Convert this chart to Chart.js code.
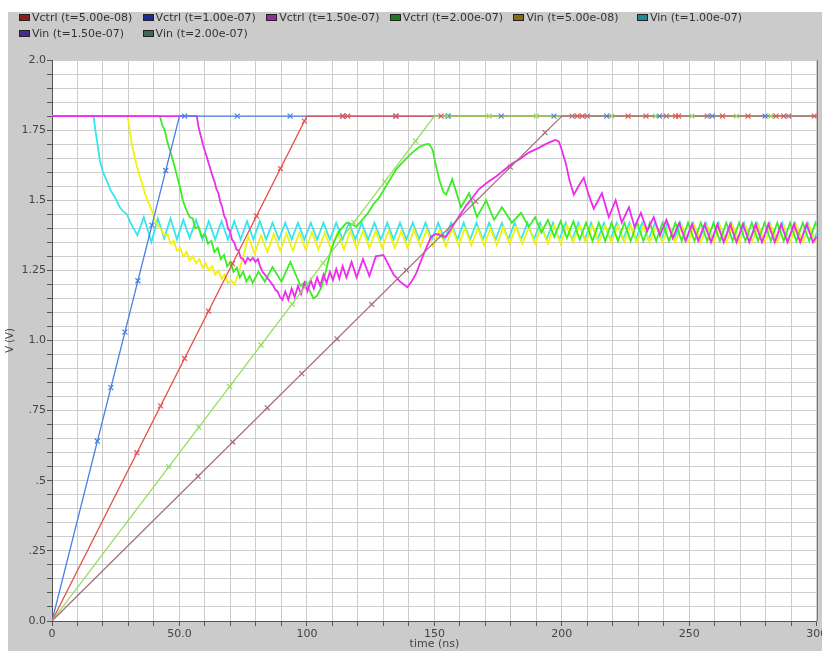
<!DOCTYPE html>
<html><head><meta charset="utf-8">
<script src="https://cdn.jsdelivr.net/npm/chart.js@4/dist/chart.umd.min.js"></script>
<style>
html,body{margin:0;padding:0;background:#fff;overflow:hidden;}
#wrap{position:relative;width:822px;height:651px;}
#c{position:absolute;left:0;top:0;}
.lg{position:absolute;font:11px "DejaVu Sans",sans-serif;color:#333;white-space:nowrap;line-height:13px;}
.lg i{display:inline-block;width:9px;height:5px;border:1px solid #222;margin-right:2px;vertical-align:0px;}
</style></head>
<body><div id="wrap"><canvas id="c" width="822" height="651"></canvas><div id="legend"></div></div>
<script>
// ---------- data ----------
const legendLabels = ['Vctrl (t=5.00e-08)','Vctrl (t=1.00e-07)','Vctrl (t=1.50e-07)','Vctrl (t=2.00e-07)','Vin (t=5.00e-08)','Vin (t=1.00e-07)','Vin (t=1.50e-07)','Vin (t=2.00e-07)'];
const legendColors = ['#8e1c1c','#1c2a9a','#9a2a9a','#1f7a1f','#8a6a10','#1e8a94','#4a2a8a','#3a6a5a'];
const xTickLabels = {0:'0',50:'50.0',100:'100',150:'150',200:'200',250:'250',300:'300'};
const yTickLabels = {0:'0.0',25:'.25',50:'.5',75:'.75',100:'1.0',125:'1.25',150:'1.5',175:'1.75',200:'2.0'};

// Vctrl ramps (time ns, V)
const vctrlA = [[0,0],[50,1.8],[300,1.8]];
const vctrlB = [[0,0],[100,1.8],[300,1.8]];
const vctrlC = [[0,0],[150,1.8],[300,1.8]];
const vctrlD = [[0,0],[200,1.8],[300,1.8]];

// markers on the Vctrl traces
const mkA = [[17.8,0.641],[23.1,0.832],[28.6,1.03],[33.7,1.213],[39.2,1.411],[44.6,1.606],[52,1.8],[72.7,1.8],[93.4,1.8],[114.1,1.8],[134.8,1.8],[155.5,1.8],[176.2,1.8],[196.9,1.8],[217.6,1.8],[238.3,1.8],[259,1.8],[279.7,1.8]];
const mkB = [[33.3,0.6],[42.6,0.767],[52,0.936],[61.4,1.105],[70.8,1.274],[80.2,1.444],[89.6,1.613],[99,1.782],[114,1.8],[116,1.8],[135,1.8],[152.6,1.8],[206,1.8],[208,1.8],[226,1.8],[233,1.8],[244.6,1.8],[245.8,1.8],[263,1.8],[273,1.8],[284,1.8],[287,1.8],[299,1.8]];
const mkC = [[45.8,0.55],[57.6,0.691],[69.7,0.836],[82,0.984],[94.2,1.13],[106.3,1.276],[118.4,1.421],[130.5,1.566],[142.6,1.711],[155,1.8],[171.5,1.8],[190,1.8],[219.6,1.8],[236.7,1.8],[251,1.8],[268.5,1.8],[282,1.8]];
const mkD = [[57.3,0.516],[70.9,0.638],[84.4,0.76],[98,0.882],[111.8,1.006],[125.4,1.129],[139,1.251],[152.6,1.373],[166.2,1.496],[179.8,1.618],[193.4,1.741],[204,1.8],[210,1.8],[241,1.8],[257,1.8],[289,1.8]];

// Vin traces (time ns, V)
const vinA = [[0,1.8],[16.3,1.8],[17,1.75],[17.6,1.715],[18.8,1.64],[20,1.6],[21.5,1.57],[23,1.535],[24.7,1.51],[26.6,1.475],[28,1.46],[29.4,1.45],[30.5,1.425],[31.7,1.405],[33.5,1.375],
[36,1.44],[39,1.35],[41.5,1.435],[44,1.365],[46.5,1.435],[49,1.36],[51.5,1.43],[54,1.365],[56.5,1.43],[59,1.36],[61.5,1.425],[64,1.36],[66.5,1.425],[69,1.36],[71.5,1.425],[74,1.36],[76.5,1.425],[79,1.36],[81.5,1.425],[84,1.36],[86.5,1.42],[89,1.36],[91.5,1.42],[94,1.36],[96.5,1.42],[99,1.36],[101.5,1.42],[104,1.36],[106.5,1.42],[109,1.36],[111.5,1.42],[114,1.36],[116.5,1.42],[119,1.36],[121.5,1.42],[124,1.36],[126.5,1.42],[129,1.36],[131.5,1.42],[134,1.36],[136.5,1.42],[139,1.36],[141.5,1.42],[144,1.36],[146.5,1.42],[149,1.36],[151.5,1.42],[154,1.36],[156.5,1.42],[159,1.36],[161.5,1.42],[164,1.36],[166.5,1.42],[169,1.36],[171.5,1.42],[174,1.36],[176.5,1.42],[179,1.36],[181.5,1.42],[184,1.36],[186.5,1.42],[189,1.36],[191.5,1.42],[194,1.36],[196.5,1.42],[199,1.36],[201.5,1.42],[204,1.36],[206.5,1.42],[209,1.36],[211.5,1.42],[214,1.36],[216.5,1.42],[219,1.36],[221.5,1.42],[224,1.36],[226.5,1.42],[229,1.36],[231.5,1.42],[234,1.36],[236.5,1.42],[239,1.36],[241.5,1.42],[244,1.36],[246.5,1.42],[249,1.36],[251.5,1.42],[254,1.36],[256.5,1.42],[259,1.36],[261.5,1.42],[264,1.36],[266.5,1.42],[269,1.36],[271.5,1.42],[274,1.36],[276.5,1.42],[279,1.36],[281.5,1.42],[284,1.36],[286.5,1.42],[289,1.36],[291.5,1.42],[294,1.36],[296.5,1.42],[299,1.36],[300,1.385]];

const vinB = [[0,1.8],[29.7,1.8],[30.5,1.75],[31.3,1.7],[32.3,1.66],[33.3,1.62],[34.5,1.585],[35.6,1.55],[37,1.51],[38.4,1.48],[39.5,1.455],[40.3,1.43],[41.5,1.41],[42.8,1.395],[44,1.375],[45.3,1.38],[46.5,1.345],[47.8,1.355],[49,1.32],[50.3,1.33],[51.5,1.3],[52.8,1.315],[54,1.285],[55.3,1.3],[56.5,1.275],[57.8,1.29],[59,1.26],[60.3,1.275],[61.5,1.25],[62.8,1.265],[64,1.235],[65.3,1.25],[66.5,1.22],[67.8,1.235],[69,1.205],[70.3,1.215],[71.5,1.2],[73,1.235],[75,1.3],
[77,1.37],[79.5,1.31],[82,1.375],[84.5,1.315],[87,1.38],[89.5,1.32],[92,1.38],[94.5,1.32],[97,1.385],[99.5,1.325],[102,1.385],[104.5,1.325],[107,1.385],[109.5,1.325],[112,1.385],[114.5,1.325],[117,1.39],[119.5,1.33],[122,1.39],[124.5,1.33],[127,1.39],[129.5,1.33],[132,1.39],[134.5,1.33],[137,1.39],[139.5,1.33],[142,1.395],[144.5,1.335],[147,1.395],[149.5,1.335],[152,1.395],[154.5,1.335],[157,1.4],[159.5,1.34],[162,1.4],[164.5,1.34],[167,1.4],[169.5,1.34],[172,1.4],[174.5,1.34],[177,1.405],[179.5,1.345],[182,1.405],[184.5,1.345],[187,1.405],[189.5,1.345],[192,1.405],[194.5,1.345],[197,1.41],[199.5,1.345],[202,1.41],[204.5,1.35],[207,1.41],[209.5,1.35],[212,1.41],[214.5,1.35],[217,1.41],[219.5,1.35],[222,1.41],[224.5,1.35],[227,1.41],[229.5,1.35],[232,1.41],[234.5,1.35],[237,1.41],[239.5,1.35],[242,1.41],[244.5,1.35],[247,1.41],[249.5,1.35],[252,1.41],[254.5,1.35],[257,1.41],[259.5,1.35],[262,1.41],[264.5,1.35],[267,1.41],[269.5,1.35],[272,1.41],[274.5,1.35],[277,1.41],[279.5,1.35],[282,1.41],[284.5,1.35],[287,1.41],[289.5,1.35],[292,1.41],[294.5,1.35],[297,1.41],[299.5,1.35],[300,1.355]];

const vinC = [[0,1.8],[42.3,1.8],[43.2,1.77],[44.2,1.75],[45.2,1.71],[46.2,1.68],[47.2,1.65],[48.1,1.62],[49.1,1.585],[50.1,1.55],[51.3,1.5],[52.5,1.47],[54,1.44],[55.2,1.435],[56.2,1.4],[57.5,1.405],[58.7,1.37],[60,1.38],[61.2,1.345],[62.5,1.355],[63.7,1.315],[65,1.33],[66.2,1.29],[67.5,1.305],[68.7,1.265],[70,1.28],[71.2,1.245],[72.5,1.26],[73.7,1.225],[75,1.245],[76.2,1.21],[77.5,1.23],[78.7,1.205],[81,1.245],[83.5,1.21],[86.5,1.262],[90,1.21],[93.5,1.28],[97.5,1.195],[99.5,1.21],[102.5,1.15],[104,1.16],[105.7,1.19],[107.5,1.25],[108.8,1.3],[110.5,1.35],[112.7,1.39],[115.5,1.42],[117.5,1.415],[119.4,1.405],[121.7,1.43],[124,1.455],[126,1.485],[128.4,1.51],[131,1.55],[133,1.58],[135,1.61],[137.5,1.635],[141.3,1.67],[144,1.69],[146.8,1.7],[148,1.7],[149.3,1.68],[150.7,1.62],[152,1.57],[153.5,1.53],[154.6,1.52],[157,1.575],[160.4,1.475],[163.6,1.525],[166.7,1.44],[170.3,1.5],[173.4,1.43],[176.5,1.475],[180.4,1.42],[184,1.455],[187,1.405],[189.5,1.44],[192,1.385],[194.5,1.43],[197,1.37],[199.5,1.425],[202,1.365],[204.5,1.425],[207,1.36],[209.5,1.42],[212,1.355],[214.5,1.42],[217,1.355],[219.5,1.42],[222,1.355],[224.5,1.42],[227,1.355],[229.5,1.42],[232,1.355],[234.5,1.42],[237,1.355],[239.5,1.42],[242,1.355],[244.5,1.42],[247,1.355],[249.5,1.42],[252,1.355],[254.5,1.42],[257,1.355],[259.5,1.42],[262,1.355],[264.5,1.42],[267,1.355],[269.5,1.42],[272,1.355],[274.5,1.42],[277,1.355],[279.5,1.42],[282,1.355],[284.5,1.42],[287,1.355],[289.5,1.42],[292,1.355],[294.5,1.42],[297,1.355],[299.5,1.42],[300,1.41]];

const vinD = [[0,1.8],[56.8,1.8],[57.5,1.76],[58.2,1.735],[59.2,1.7],[60,1.675],[60.7,1.655],[61.5,1.63],[62.2,1.61],[63,1.585],[63.8,1.565],[64.5,1.54],[65.3,1.525],[66,1.495],[66.8,1.475],[67.5,1.445],[68.3,1.43],[69,1.4],[69.8,1.39],[70.6,1.36],[71.5,1.35],[72.3,1.325],[73.2,1.32],[74,1.295],[75,1.29],[75.8,1.275],[76.8,1.295],[77.8,1.285],[78.8,1.295],[79.8,1.28],[80.8,1.29],[81.6,1.265],[82.6,1.245],[83.5,1.235],[84.3,1.225],[85.2,1.215],[86,1.205],[86.8,1.195],[87.7,1.18],[88.5,1.175],[89.4,1.155],[90.4,1.145],[91.5,1.175],[92.7,1.145],[94,1.185],[95.2,1.155],[96.5,1.195],[97.7,1.165],[99,1.205],[100.2,1.175],[101.5,1.215],[102.7,1.185],[104,1.225],[105.2,1.195],[106.5,1.235],[107.7,1.205],[109,1.245],[110.2,1.215],[111.5,1.255],[112.7,1.22],[114,1.265],[115.5,1.225],[117.5,1.28],[119.5,1.225],[122,1.29],[124.5,1.23],[127,1.3],[130,1.305],[132,1.27],[134,1.235],[136.5,1.21],[139.4,1.19],[141,1.21],[142.9,1.24],[145,1.29],[146.8,1.33],[148.7,1.37],[150.5,1.38],[152.5,1.375],[154.6,1.37],[157,1.405],[159.5,1.44],[162.4,1.48],[165,1.51],[167.5,1.54],[171,1.565],[174.2,1.585],[177,1.605],[180.4,1.63],[184,1.65],[187,1.67],[190.5,1.685],[193.7,1.7],[196,1.71],[197.6,1.715],[198.8,1.71],[199.6,1.69],[201.6,1.63],[203,1.57],[204.7,1.52],[206.5,1.55],[208.6,1.58],[210.5,1.52],[212.5,1.47],[215.7,1.525],[218.4,1.44],[221.1,1.5],[223.5,1.42],[226.3,1.475],[228.5,1.405],[231,1.455],[233.5,1.39],[236,1.44],[238.5,1.375],[241,1.43],[243.5,1.365],[246,1.42],[248.5,1.355],[251,1.415],[253.5,1.355],[256,1.415],[258.5,1.35],[261,1.415],[263.5,1.35],[266,1.415],[268.5,1.35],[271,1.415],[273.5,1.35],[276,1.415],[278.5,1.35],[281,1.415],[283.5,1.35],[286,1.415],[288.5,1.35],[291,1.415],[293.5,1.35],[296,1.415],[298.5,1.35],[300,1.37]];

// ---------- legend (HTML text) ----------
const lg = document.getElementById('legend');
legendLabels.forEach((t,i)=>{
  const d = document.createElement('div');
  d.className='lg';
  const col = i<6 ? i : i-6, row = i<6 ? 0 : 1;
  d.style.left = (19 + col*123.6) + 'px';
  d.style.top = (row===0 ? 11 : 27) + 'px';
  d.innerHTML = '<i style="background:'+legendColors[i]+'"></i>' + t;
  lg.appendChild(d);
});

// ---------- chart ----------
const pts = a => a.map(p=>({x:p[0],y:p[1]}));
const lineDs = (data,color,width,order)=>({data:pts(data),borderColor:color,backgroundColor:color,borderWidth:width,pointRadius:0,tension:0,order:order,fill:false});
const mkDs = (data,color,order)=>({data:pts(data),borderColor:color,backgroundColor:color,showLine:false,pointStyle:'crossRot',pointRadius:3.5,pointBorderWidth:1.2,order:order});

const cBlue='#4a7fe6', cRed='#e8524c', cLGreen='#94dd62', cMauve='#a8707e';
const cCyan='#33e6f0', cYellow='#f2f20c', cGreen='#3aee22', cMag='#ee2cee';

const bg = {
  id:'bg',
  beforeDraw(chart){
    const {ctx, chartArea:a} = chart;
    ctx.save();
    ctx.fillStyle='#ffffff'; ctx.fillRect(0,0,chart.width,chart.height);
    ctx.fillStyle='#cbcbcb'; ctx.fillRect(8,12,chart.width-8,chart.height-12);
    ctx.fillStyle='#ffffff'; ctx.fillRect(a.left,a.top,a.right-a.left,a.bottom-a.top);
    ctx.restore();
  },
  afterDraw(chart){
    const {ctx, chartArea:a} = chart;
    ctx.save();
    ctx.strokeStyle='#777'; ctx.lineWidth=1;
    ctx.beginPath(); ctx.moveTo(Math.round(a.right)+0.5,a.top); ctx.lineTo(Math.round(a.right)+0.5,a.bottom); ctx.stroke();
    ctx.restore();
  }
};

new Chart(document.getElementById('c'),{
  type:'line',
  data:{datasets:[
    mkDs(mkD,cMauve,0), mkDs(mkC,cLGreen,0), mkDs(mkB,cRed,0), mkDs(mkA,cBlue,0),
    lineDs(vctrlD,cMauve,1.3,1), lineDs(vctrlC,cLGreen,1.3,2), lineDs(vctrlB,cRed,1.3,3), lineDs(vctrlA,cBlue,1.3,4),
    lineDs(vinD,cMag,1.8,5), lineDs(vinC,cGreen,1.8,6), lineDs(vinB,cYellow,1.8,7), lineDs(vinA,cCyan,1.8,8)
  ]},
  options:{
    responsive:false, animation:false, devicePixelRatio:1,
    layout:{padding:{left:0,top:60,right:3,bottom:0}},
    plugins:{legend:{display:false},tooltip:{enabled:false}},
    scales:{
      x:{type:'linear',min:0,max:300,
        afterFit(s){s.height=30;s.paddingRight=0;s.paddingLeft=0;},
        ticks:{stepSize:10,autoSkip:false,maxRotation:0,padding:2,color:'#444',maxTicksLimit:100,
          font:{family:'DejaVu Sans',size:11},
          callback:v=>{const k=Math.round(v);return (k in xTickLabels)?xTickLabels[k]:'';}},
        grid:{color:'#cdcdcd',lineWidth:1,tickLength:5,tickColor:'#555',drawTicks:true},
        border:{color:'#555',width:1},
        title:{display:true,text:'time (ns)',color:'#444',font:{family:'DejaVu Sans',size:11},padding:{top:0,bottom:0}}
      },
      y:{type:'linear',min:0,max:2,
        afterFit(s){s.width=52;},
        ticks:{stepSize:0.05,autoSkip:false,padding:1,color:'#444',maxTicksLimit:100,
          font:{family:'DejaVu Sans',size:11},
          callback:v=>{const k=Math.round(v*100);return (k in yTickLabels)?yTickLabels[k]:'';}},
        grid:{color:'#cdcdcd',lineWidth:1,tickLength:5,tickColor:'#555',drawTicks:true},
        border:{color:'#555',width:1},
        title:{display:true,text:'V (V)',color:'#444',font:{family:'DejaVu Sans',size:10},padding:{top:4,bottom:0}}
      }
    }
  },
  plugins:[bg]
});
</script>
</body></html>
